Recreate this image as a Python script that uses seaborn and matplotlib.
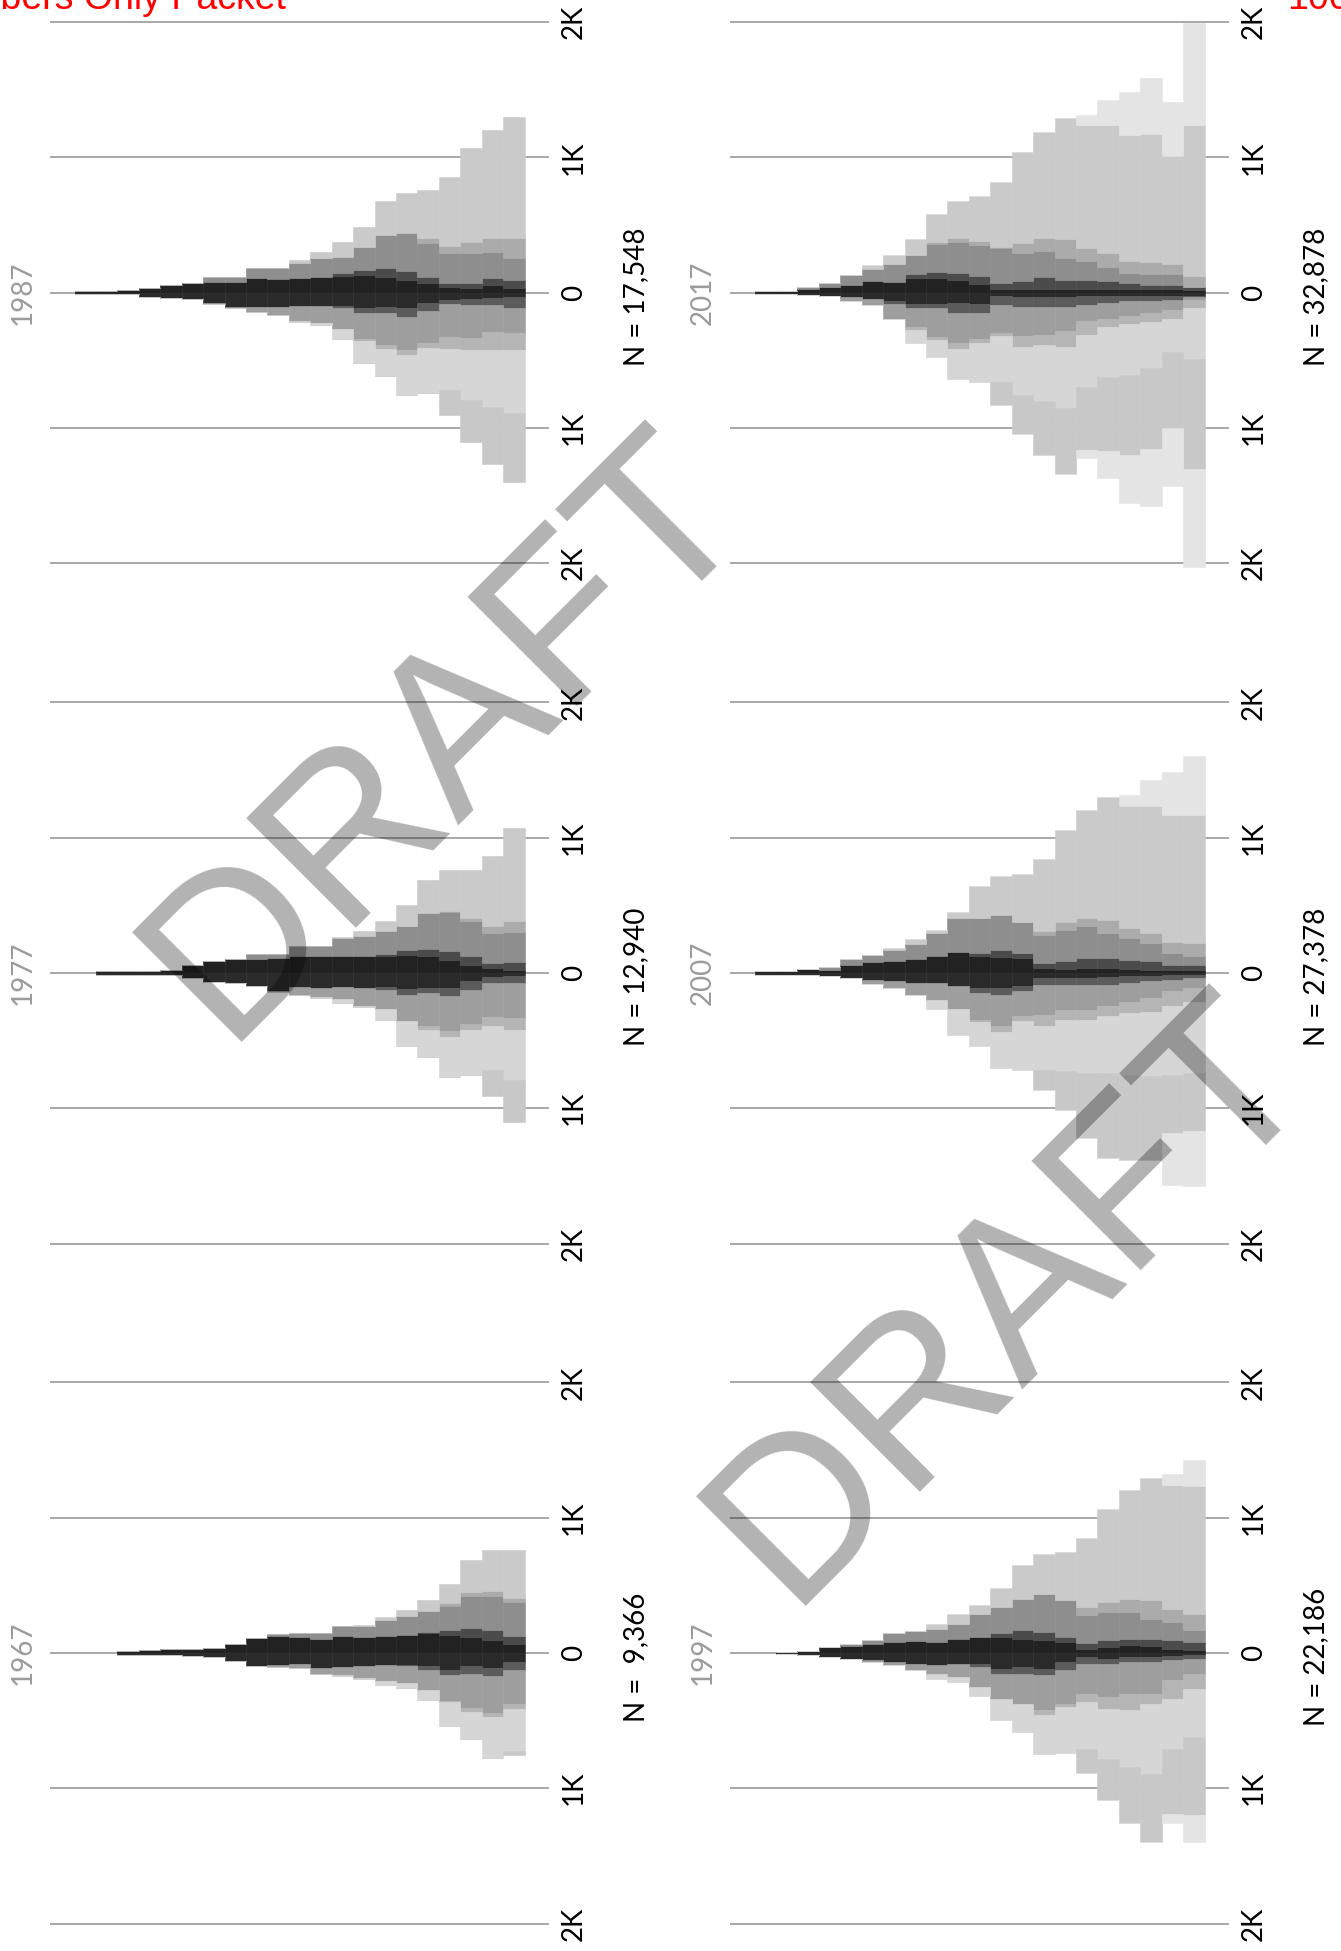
import numpy as np
import seaborn as sns
import matplotlib.pyplot as plt

sns.set_theme(style="white")
plt.rcParams['font.family'] = ['Lato', 'DejaVu Sans']

years = [1967, 1977, 1987, 1997, 2007, 2017]
n_labels = ['N =  9,366', 'N = 12,940', 'N = 17,548', 'N = 22,186', 'N = 27,378', 'N = 32,878']
tick_vals = [-2000, -1000, 0, 1000, 2000]
tick_text = ['2K', '1K', '0', '1K', '2K']

up_colors = ['#222222', '#4b4b4b', '#8e8e8e', '#ababab', '#cacaca', '#e4e4e4']
lo_colors = ['#2a2a2a', '#5b5b5b', '#9e9e9e', '#b5b5b5', '#d6d6d6', '#c8c8c8', '#e4e4e4']

# cumulative outer edge of each shade, per bin (bin 0 = widest end);
# a shorter list means the shade is absent for the remaining bins
up_1967 = [
    [69, 99, 118, 135, 148, 135, 123, 118, 128, 103, 118, 123, 108, 66, 37, 32, 27, 20, 15],
    [128, 172, 185, 172, 155],
    [374, 419, 424, 350, 308, 271, 246, 197, 202, 148, 148, 143, 113],
    [406, 456, 448, 369],
    [764, 759, 690, 512, 394, 320, 266, 209, 202],
]
lo_1967 = [
    [69, 111, 99, 123, 94, 91, 86, 99, 103, 113, 79, 89, 94, 57, 32, 25, 15, 12, 12],
    [128, 172, 155, 165, 128, 99],
    [374, 443, 406, 357, 271, 222, 204, 185, 160, 153, 111, 103, 94],
    [411, 473, 436, 365],
    [722, 776, 635, 542, 350, 259, 234, 192, 167, 153],
    [751],
]
up_1977 = [
    [25, 37, 62, 99, 123, 135, 123, 128, 123, 123, 123, 111, 103, 103, 86, 57, 25, 17, 15, 15],
    [79, 74, 128, 165, 180, 167, 143],
    [300, 296, 382, 448, 443, 350, 308, 271, 259, 197, 197, 143, 143],
    [382, 350, 406, 456],
    [1071, 867, 759, 759, 685, 505, 382, 313, 264],
]
lo_1977 = [
    [25, 30, 62, 111, 111, 118, 103, 111, 106, 111, 106, 135, 99, 74, 69, 37, 15, 12, 12, 12],
    [74, 74, 123, 172, 148, 160, 123],
    [333, 325, 374, 431, 394, 357, 266, 241, 192, 177, 160, 143],
    [419, 394, 419, 473, 419],
    [788, 714, 751, 768, 621, 537, 345, 251, 222, 185],
    [1103, 906],
]
up_1987 = [
    [32, 57, 32, 44, 69, 94, 118, 131, 123, 118, 106, 99, 106, 81, 81, 74, 57, 32, 20, 12, 12],
    [94, 106, 74, 74, 118, 163, 180, 167, 148],
    [254, 303, 296, 291, 369, 438, 426, 340, 266, 254, 217, 180, 180, 118, 118],
    [401, 401, 377, 345, 401],
    [1300, 1202, 1066, 857, 759, 739, 677, 488, 372, 298, 241],
]
lo_1987 = [
    [30, 42, 47, 54, 79, 116, 103, 116, 99, 99, 99, 103, 103, 103, 74, 44, 37, 34, 12, 12, 12],
    [111, 91, 91, 84, 133, 177, 153, 153, 111],
    [300, 288, 337, 325, 374, 424, 389, 345, 271, 222, 209, 167, 143, 111, 86],
    [424, 424, 424, 419, 406, 461, 419, 357],
    [892, 842, 793, 719, 744, 756, 616, 522, 345, 241, 217],
    [1397, 1266, 1106, 904],
]
up_1997 = [
    [25, 32, 49, 57, 44, 30, 81, 94, 106, 118, 118, 106, 81, 86, 81, 64, 52, 44, 15, 10],
    [81, 94, 106, 106, 94, 74, 118, 155, 172, 148],
    [167, 229, 254, 303, 303, 283, 394, 433, 401, 340, 291, 217, 180, 163, 148, 94, 69],
    [291, 328, 389, 401, 377, 340],
    [1232, 1239, 1293, 1202, 1066, 852, 746, 734, 653, 480, 357, 291, 217],
    [1424, 1325],
]
lo_1997 = [
    [17, 25, 30, 30, 42, 30, 66, 116, 103, 116, 79, 79, 91, 79, 66, 54, 42, 30, 17, 10],
    [42, 54, 66, 66, 84, 79, 123, 165, 153, 153, 103],
    [153, 202, 300, 300, 325, 300, 374, 419, 374, 337, 251, 177, 153, 123, 91, 66],
    [264, 337, 374, 424, 411, 362, 399, 461],
    [621, 707, 892, 842, 781, 707, 739, 744, 584, 498, 320, 214, 190],
    [1200, 1187, 1397, 1256, 1084, 887],
    [1397, 1256],
]
up_2007 = [
    [25, 25, 25, 30, 37, 37, 30, 37, 111, 118, 123, 153, 123, 106, 86, 79, 62, 25, 30, 17, 15],
    [62, 62, 86, 99, 111, 111, 86, 74, 148, 167, 148],
    [123, 148, 222, 259, 296, 345, 320, 283, 374, 431, 406, 406, 296, 217, 167, 135, 103, 44],
    [222, 227, 296, 333, 394, 406, 374, 308],
    [1170, 1170, 1236, 1236, 1300, 1202, 1059, 842, 734, 714, 640, 448, 320, 251, 185],
    [1601, 1485, 1424, 1318],
]
lo_2007 = [
    [12, 17, 20, 25, 30, 37, 37, 37, 99, 111, 111, 94, 74, 74, 62, 49, 37, 25, 17, 12, 12],
    [37, 49, 62, 74, 86, 86, 86, 86, 135, 160, 148],
    [111, 135, 185, 217, 246, 271, 271, 308, 320, 394, 345, 266, 197, 160, 111, 79],
    [217, 246, 291, 296, 320, 345, 345, 394, 357, 438, 365],
    [739, 751, 764, 751, 739, 739, 727, 714, 714, 702, 537, 456, 266],
    [1170, 1182, 1384, 1379, 1367, 1219, 1010, 862],
    [1576, 1564],
]
up_2017 = [
    [21, 24, 24, 24, 26, 31, 31, 31, 31, 26, 65, 97, 110, 110, 79, 84, 58, 39, 26, 16, 16],
    [39, 58, 58, 71, 84, 97, 97, 118, 84, 71, 123, 149, 154, 136],
    [39, 136, 136, 149, 188, 233, 254, 306, 293, 327, 353, 372, 359, 280, 215, 175, 128, 71, 45],
    [123, 215, 228, 233, 293, 332, 398, 403, 367, 340, 380, 406, 372],
    [1236, 1013, 1170, 1165, 1236, 1236, 1288, 1191, 1039, 817, 712, 678, 581, 398, 280, 202],
    [1995, 1406, 1589, 1484, 1424, 1314],
]
lo_2017 = [
    [21, 21, 21, 21, 26, 26, 31, 31, 31, 26, 86, 73, 81, 86, 60, 47, 34, 26, 16, 10, 10],
    [34, 55, 65, 65, 79, 92, 105, 105, 105, 92, 152, 152, 113, 113, 86],
    [52, 126, 152, 170, 191, 212, 283, 309, 322, 296, 343, 374, 327, 257, 191, 92, 65],
    [113, 191, 217, 230, 257, 309, 401, 387, 401, 322, 374, 414, 353, 275],
    [492, 440, 558, 605, 623, 694, 851, 798, 754, 662, 662, 641, 474, 369],
    [1304, 1003, 1155, 1199, 1173, 1160, 1343, 1199, 1042, 833],
    [2024, 1429, 1579, 1552, 1369, 1225],
]

panels = {
    1967: (up_1967, lo_1967), 1977: (up_1977, lo_1977), 1987: (up_1987, lo_1987),
    1997: (up_1997, lo_1997), 2007: (up_2007, lo_2007), 2017: (up_2017, lo_2017),
}
# column, row (0 = top of page)
slots = {1967: (0, 2), 1977: (0, 1), 1987: (0, 0), 1997: (1, 2), 2007: (1, 1), 2017: (1, 0)}

W, H = 1341, 1951
fig = plt.figure(figsize=(W / 100, H / 100), dpi=100)

col_x = [50, 730]
col_w = 498.5
row_zero = [292.7, 973, 1653]
px_per_k = 135.3
y_lim = 2100
half = y_lim / 1000 * px_per_k


def draw_half(ax, layers, colors, sign):
    nbins = len(layers[0])
    prev = np.zeros(nbins)
    for vals, col in zip(layers, colors):
        cum = prev.copy()
        k = len(vals)
        cum[:k] = np.maximum(np.array(vals, dtype=float), prev[:k])
        seg = cum - prev
        ax.bar(np.arange(nbins), sign * seg, bottom=sign * prev, width=1.0,
               color=col, edgecolor=col, linewidth=0.4, zorder=2)
        prev = cum


for yr, lbl in zip(years, n_labels):
    c, r = slots[yr]
    x0 = col_x[c]
    y0 = row_zero[r]
    ax = fig.add_axes([x0 / W, (H - (y0 + half)) / H, col_w / W, 2 * half / H])
    up, lo = panels[yr]
    for v in tick_vals:
        ax.axhline(v, color='#999999', lw=1.2, zorder=1)
    draw_half(ax, up, up_colors, 1)
    draw_half(ax, lo, lo_colors, -1)
    ax.set_xlim(21.65, -1.62)
    ax.set_ylim(-y_lim, y_lim)
    ax.set_xticks([])
    ax.yaxis.tick_right()
    ax.set_yticks(tick_vals)
    ax.set_yticklabels(tick_text, rotation=90, va='center', ha='left')
    ax.tick_params(axis='y', length=0, pad=9, labelsize=20, labelcolor='black')
    sns.despine(ax=ax, left=True, bottom=True, right=True, top=True)
    ax.text(-0.054, 0, str(yr), transform=ax.get_yaxis_transform(),
            rotation=90, ha='center', va='center', fontsize=20, color='#9b9b9b')
    ax.text(1.175, -30, lbl, transform=ax.get_yaxis_transform(),
            rotation=90, ha='center', va='center', fontsize=20, color='black')

# page header fragments
fig.text(-83 / W, 1 - 9 / H, 'Members Only Packet', color='red', fontsize=27,
         family='Liberation Sans', ha='left', va='baseline')
fig.text(1287 / W, 1 - 9 / H, '100', color='red', fontsize=27,
         family='Liberation Sans', ha='left', va='baseline')

# watermarks
for ax_px, ay_px in [(224, 1042), (787, 1606)]:
    fig.text(ax_px / W, 1 - ay_px / H, 'DRAFT', rotation=45, rotation_mode='anchor',
             ha='left', va='baseline', fontsize=162, color='black', alpha=0.3,
             family='Liberation Sans')

fig.savefig('out.png', dpi=100)
